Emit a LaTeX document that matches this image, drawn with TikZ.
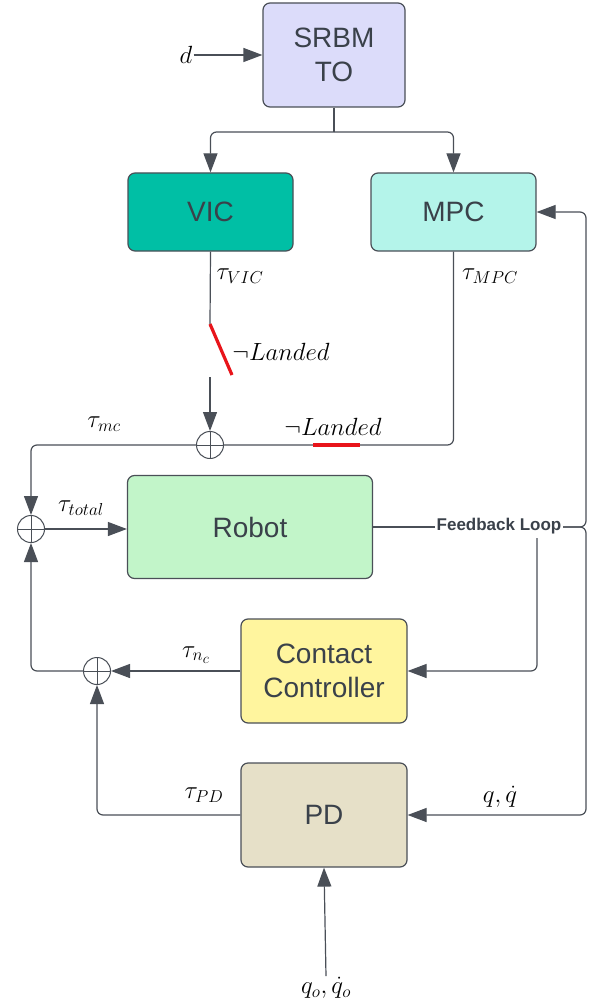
\documentclass[tikz,border=0pt]{standalone}
\usepackage{fontspec}
\setmainfont{Liberation Sans}
\usetikzlibrary{arrows.meta}
\DeclareMathSizes{23}{23}{18}{14}
\definecolor{linec}{HTML}{4A4F57}
\definecolor{textc}{HTML}{3A414A}
\definecolor{srbmc}{HTML}{DCDCFA}
\definecolor{vicc}{HTML}{00BFA5}
\definecolor{mpcc}{HTML}{B4F4EA}
\definecolor{robotc}{HTML}{C2F5C9}
\definecolor{ccc}{HTML}{FFF59E}
\definecolor{pdc}{HTML}{E6E0C8}
\definecolor{swc}{HTML}{E8141A}
\begin{document}
\begin{tikzpicture}[x=1pt,y=-1pt,
  blk/.style={draw=linec, line width=1.2pt, rounded corners=7pt, text=textc,
    font=\fontsize{28}{33.6}\selectfont, align=center, inner sep=0pt},
  conn/.style={draw=linec, line width=1.2pt, rounded corners=6pt},
  arr/.style={conn, -{Triangle[length=19pt,width=14pt]}},
  sumnode/.style={circle, draw=linec, line width=1pt, minimum size=27pt, inner sep=0pt},
  lab/.style={text=black, inner sep=1pt, font=\fontsize{23}{27}\selectfont},
  switchline/.style={draw=swc, line width=3.2pt}]
\useasboundingbox (0,0) rectangle (595,1003);

% blocks
\node[blk, fill=srbmc, minimum width=142pt, minimum height=104pt] (srbm) at (334,55) {SRBM\\TO};
\node[blk, fill=vicc, minimum width=165pt, minimum height=78pt] (vic) at (210.5,212) {VIC};
\node[blk, fill=mpcc, minimum width=165pt, minimum height=78pt] (mpc) at (453.5,212) {MPC};
\node[blk, fill=robotc, minimum width=245pt, minimum height=103pt] (robot) at (250,527) {Robot};
\node[blk, fill=ccc, minimum width=166pt, minimum height=104pt] (cc) at (324,671) {Contact\\Controller};
\node[blk, fill=pdc, minimum width=166pt, minimum height=104pt] (pd) at (324,815) {PD};

% summing junctions
\node[sumnode] (sum1) at (210,445) {};
\node[sumnode] (sumT) at (31,529) {};
\node[sumnode] (sum2) at (97,671) {};
\foreach \s in {sum1,sumT,sum2}
  \draw[linec, line width=0.8pt] (\s.north) -- (\s.south) (\s.west) -- (\s.east);

% labels
\node[lab, font=\fontsize{28}{30}\selectfont] (dl) at (186,55) {$d$};
\node[lab] (tvic) at (240,276) {$\tau_{VIC}$};
\node[lab] (tmpc) at (490,276) {$\tau_{MPC}$};
\node[lab] (land1) at (281,352) {$\neg Landed$};
\node[lab] (land2) at (333,427) {$\neg Landed$};
\node[lab] (tmc) at (104,424) {$\tau_{mc}$};
\node[lab] (ttot) at (81,508) {$\tau_{total}$};
\node[lab] (tnc) at (196,655) {$\tau_{n_c}$};
\node[lab] (tpd) at (204,795) {$\tau_{PD}$};
\node[lab] (qq) at (500,797) {$q,\dot{q}$};
\node[lab] (q0) at (326,988) {$q_o,\dot{q}_o$};
\node[font=\fontsize{17}{20}\selectfont\bfseries, text=textc, inner sep=1.5pt] (fb) at (499,526) {Feedback Loop};

% coordinates
\coordinate (split) at (334,132);
\coordinate (sw1a) at (210,324);
\coordinate (sw1b) at (232,375);
\coordinate (sw1c) at (210,377);
\coordinate (sw2a) at (313,445);
\coordinate (sw2b) at (360,445);
\coordinate (rail) at (586,0);
\coordinate (ccb) at (537,538);

% connectors
\draw[arr] (dl.east) -- (srbm.west);
\draw[conn] (srbm.south) -- (split);
\draw[arr] (split) -| (vic.north);
\draw[arr] (split) -| (mpc.north);

\draw[conn] (vic.south) -- (sw1a);
\draw[switchline] (sw1a) -- (sw1b);
\draw[arr] (sw1c) -- (sum1.north);

\draw[conn] (mpc.south) |- (sum1.east);
\draw[switchline] (sw2a) -- (sw2b);
\draw[arr] (sum1.west) -| (sumT.north);
\draw[arr] (sumT.east) -- (robot.west |- sumT.east);

\draw[conn] (robot.east) -- (fb.west |- robot.east);
\draw[arr] (fb.east |- robot.east) -| (rail |- mpc.east) -- (mpc.east);
\draw[arr] (fb.east |- robot.east) -| (rail |- pd.east) -- (pd.east);
\draw[arr] (ccb) |- (cc.east);

\draw[arr] (cc.west) -- (sum2.east);
\draw[arr] (sum2.west) -| (sumT.south);
\draw[arr] (pd.west) -| (sum2.south);
\draw[arr] (q0.north) -- (pd.south);
\end{tikzpicture}
\end{document}
